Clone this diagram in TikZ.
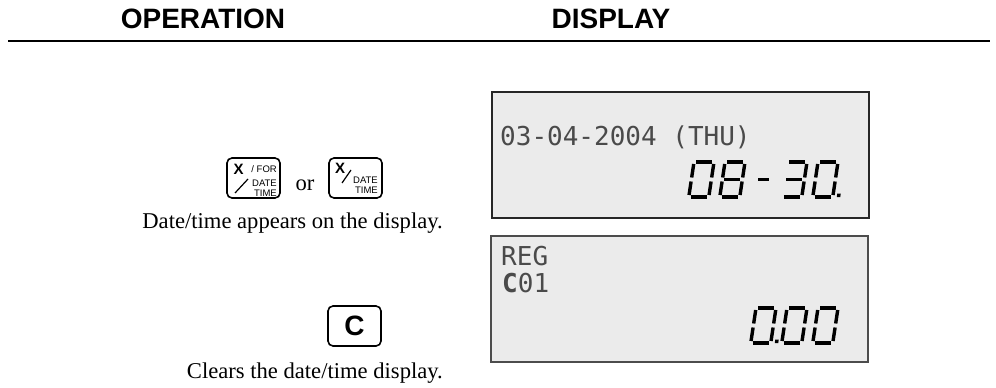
\documentclass[tikz,border=0pt]{standalone}
\usepackage{fontspec}
\setmainfont{Liberation Serif}
\newfontfamily\hdrfont{Liberation Sans}
\newfontfamily\lcdfont{DejaVu Sans Mono}
\definecolor{lcdbg}{HTML}{EBEBEB}
\definecolor{lcdtxt}{HTML}{4A4A4A}
\tikzset{
  hdr/.style={font=\hdrfont\bfseries\fontsize{28}{32}\selectfont, inner sep=0, anchor=base},
  body/.style={font=\fontsize{22.6}{26}\selectfont, inner sep=0, anchor=base east},
  keybox/.style={draw=black, line width=1.6, rounded corners=5, minimum width=53, minimum height=40, inner sep=0},
  keysmall/.style={font=\hdrfont\fontsize{9.5}{10}\selectfont, inner sep=0, anchor=east},
  keyx/.style={font=\hdrfont\bfseries\fontsize{15}{16}\selectfont, inner sep=0},
  lcdbox/.style={draw=#1, fill=lcdbg, minimum width=377, minimum height=126, inner sep=0},
  lcd/.style={font=\lcdfont\fontsize{26}{28}\selectfont, text=lcdtxt, inner sep=0, anchor=base west},
  seg/.style={line width=3.4, line cap=butt, black}
}
\newcommand\segA{\draw[seg] (2,0)--(18,0);}
\newcommand\segB{\draw[seg] (20,2)--(20,15.5);}
\newcommand\segC{\draw[seg] (20,19.5)--(20,33);}
\newcommand\segD{\draw[seg] (2,35)--(18,35);}
\newcommand\segE{\draw[seg] (0,19.5)--(0,33);}
\newcommand\segF{\draw[seg] (0,2)--(0,15.5);}
\newcommand\segG{\draw[seg] (2,17.5)--(18,17.5);}
\newcommand\segM{\draw[seg] (5,17.5)--(16,17.5);}
\newcommand\segP{\fill (24,31.5) rectangle (27.5,35);}
\newcommand\lcddigit[3]{\begin{scope}[shift={(#1,#2)},xslant=0.15]#3\end{scope}}
\begin{document}
\begin{tikzpicture}[x=1pt,y=-1pt]
\useasboundingbox (0,0) rectangle (996,388);
\fill[white] (0,0) rectangle (996,388);

% header
\node[hdr] (hop) at (203,28) {OPERATION};
\node[hdr] (hdi) at (611,28) {DISPLAY};
\coordinate (rl) at (8,41);
\coordinate (rr) at (990,41);
\draw[line width=1.8] (rl) -- (rr);

% display boxes
\node[lcdbox={black!85}, line width=1.5] (box1) at (680.5,155) {};
\node[lcdbox={black!70}, line width=2] (box2) at (679.5,299) {};

% box 1 contents
\node[lcd] (d1) at (500,145) {03-04-2004 (THU)};
\lcddigit{694}{162}{\segA\segB\segC\segD\segE\segF}
\lcddigit{725}{162}{\segA\segB\segC\segD\segE\segF\segG}
\lcddigit{756}{162}{\segM}
\lcddigit{787}{162}{\segA\segB\segC\segD\segG}
\lcddigit{818}{162}{\segA\segB\segC\segD\segE\segF\segP}

% box 2 contents
\node[lcd] (reg) at (501,265) {REG};
\node[lcd] (c01) at (502,292) {{\bfseries C}01};
\lcddigit{756}{308}{\segA\segB\segC\segD\segE\segF\segP}
\lcddigit{787}{308}{\segA\segB\segC\segD\segE\segF}
\lcddigit{818}{308}{\segA\segB\segC\segD\segE\segF}

% key 1
\node[keybox] (k1) at (253.5,178) {};
\node[keyx] (k1x) at (238.5,169) {X};
\node[keysmall] (k1for) at (277,169) {/ FOR};
\node[keysmall] (k1date) at (277,183) {DATE};
\node[keysmall] (k1time) at (277,193) {TIME};
\coordinate (k1s1) at (235,193);
\coordinate (k1s2) at (248,179);
\draw[line width=1.2] (k1s1) -- (k1s2);

\node[font=\fontsize{22.6}{26}\selectfont, inner sep=0, anchor=base] (or) at (305,190) {or};

% key 2
\node[keybox] (k2) at (355.5,178) {};
\node[keyx] (k2x) at (340,168) {X};
\coordinate (k2s1) at (342,183);
\coordinate (k2s2) at (351,170);
\draw[line width=1.2] (k2s1) -- (k2s2);
\node[keysmall] (k2date) at (378,180) {DATE};
\node[keysmall] (k2time) at (378,190) {TIME};

\node[body] (t1) at (443,228) {Date/time appears on the display.};

% C key
\node[keybox, font=\hdrfont\bfseries\fontsize{28}{30}\selectfont] (kc) at (354.5,326) {C};
\node[body] (t2) at (443,378) {Clears the date/time display.};
\end{tikzpicture}
\end{document}
